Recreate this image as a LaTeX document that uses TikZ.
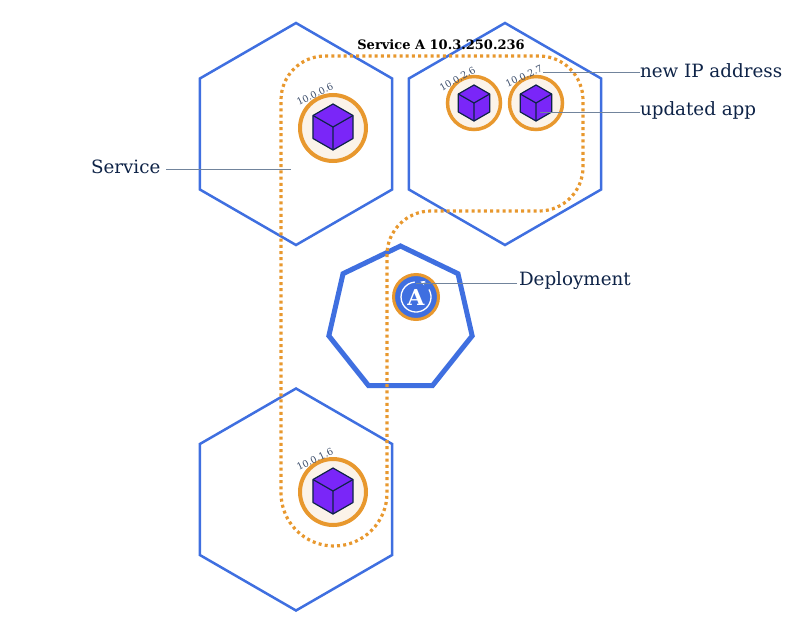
\documentclass[tikz,border=0pt]{standalone}
\usepackage{fontspec}
\setmainfont{DejaVu Serif}
\usetikzlibrary{arrows, calc, shapes.geometric}
\definecolor{kubeblue}{HTML}{3F6FE0}
\definecolor{kubeorange}{HTML}{E8982E}
\definecolor{kubecream}{HTML}{FBF3E9}
\definecolor{kubepurple}{HTML}{7A26F8}
\definecolor{kubenavy}{HTML}{0E2347}
\definecolor{leadergray}{HTML}{71849C}
\tikzset{
    nodehex/.style={draw=kubeblue, line width=2.5pt, regular polygon, regular polygon sides=6, shape border rotate=30, minimum size=222pt, inner sep=0pt, outer sep=0pt},
    masterhept/.style={draw=kubeblue, line width=5pt, regular polygon, regular polygon sides=7, minimum size=147pt, inner sep=0pt, outer sep=0pt},
    podbig/.style={draw=kubeorange, fill=kubecream, line width=4pt, circle, minimum size=66pt, inner sep=0pt},
    podsmall/.style={draw=kubeorange, fill=kubecream, line width=3.5pt, circle, minimum size=53pt, inner sep=0pt},
    deploy/.style={draw=kubeorange, fill=kubeblue, line width=3pt, circle, minimum size=45pt, inner sep=0pt},
    ipaddr/.style={text=kubenavy!80, font=\fontsize{9.5}{9.5}\selectfont, inner sep=0pt},
    callout/.style={text=kubenavy, font=\fontsize{18.3}{18.3}\selectfont, inner sep=0pt, outer sep=0pt},
    leader/.style={draw=leadergray, line width=0.75pt},
    cube/.pic={
        \draw[fill=kubepurple, draw=kubenavy, line width=1.2pt, line join=round] (0,-1) -- (0.87,-0.5) -- (0.87,0.5) -- (0,1) -- (-0.87,0.5) -- (-0.87,-0.5) -- cycle;
        \draw[draw=kubenavy, line width=1.2pt, line join=round] (-0.87,-0.5) -- (0,0) -- (0.87,-0.5) (0,0) -- (0,1);
    }
}
\begin{document}
\begin{tikzpicture}[x=1pt, y=-1pt]
    \useasboundingbox (0,0) rectangle (791,629);

    \node[nodehex] (hexa) at (296,134) {};
    \node[nodehex] (hexb) at (505,134) {};
    \node[nodehex] (hexc) at (296,499.5) {};
    \node[masterhept] (hept) at (400.5,319.5) {};

    % service boundary
    \draw[kubeorange, line width=3.2pt, dash pattern=on 3pt off 3.2pt, rounded corners=44pt]
        (281,400) -- (281,56) -- (583,56) -- (583,211) -- (387,211) -- (387,400) [rounded corners=53pt] -- (387,546) -- (281,546) -- cycle;

    \node[podbig] (poda) at (333,128) {};
    \node[podsmall] (podb) at (474,103) {};
    \node[podsmall] (podd) at (536,103) {};
    \node[podbig] (podc) at (333,492) {};
    \node[deploy] (deployapp) at (416,297) {};

    \path (333,127) pic[scale=23] {cube};
    \path (474,103) pic[scale=18] {cube};
    \path (536,103) pic[scale=18] {cube};
    \path (333,491) pic[scale=23] {cube};

    % deployment icon
    \draw[white, line width=1.3pt] (deployapp.center) ++(-30:15) arc[start angle=-30, end angle=265, radius=15];
    \draw[white, line width=1.1pt, -stealth] (426,283.5) -- (420.5,281.5);
    \node[text=white, font=\fontsize{22}{22}\selectfont\bfseries, inner sep=0pt] (deployletter) at (416,297.5) {A};

    \node[ipaddr, rotate=26] (ipa) at (315,94) {10.0.0.6};
    \node[ipaddr, rotate=30] (ipb) at (457.5,79) {10.0.2.6};
    \node[ipaddr, rotate=25] (ipd) at (524,76) {10.0.2.7};
    \node[ipaddr, rotate=26] (ipc) at (315,459) {10.0.1.6};

    \node[font=\fontsize{13}{13}\selectfont\bfseries, text=black, inner sep=0pt] (title) at (441,45) {Service A 10.3.250.236};
    \node[callout, anchor=west] (service) at (91,167) {Service};
    \node[callout, anchor=west] (newip) at (640,71) {new IP address};
    \node[callout, anchor=west] (updated) at (640,110) {updated app};
    \node[callout, anchor=west] (deployment) at (519,281) {Deployment};

    \coordinate (serviceend) at (291,169);
    \coordinate (newipend) at (543,72);
    \coordinate (updatedend) at (540,112);
    \coordinate (deployend) at (416,283);

    \draw[leader] ([xshift=6pt]serviceend -| service.east) -- (serviceend);
    \draw[leader] (newipend -| newip.west) -- (newipend);
    \draw[leader] (updatedend -| updated.west) -- (updatedend);
    \draw[leader] ([xshift=-2pt]deployend -| deployment.west) -- (deployend);
\end{tikzpicture}
\end{document}
